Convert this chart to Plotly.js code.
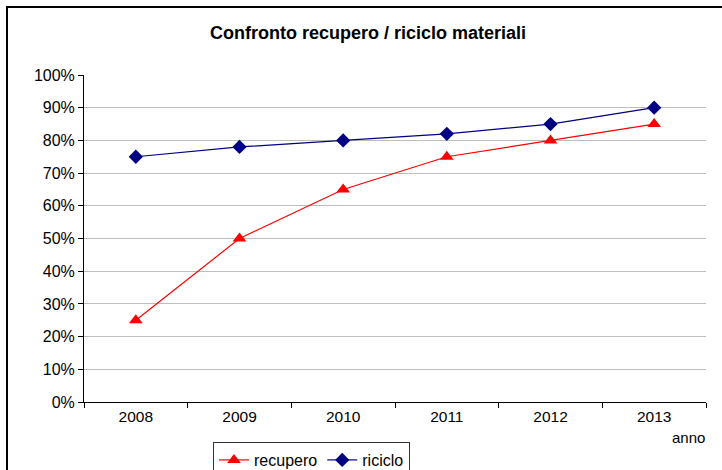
<!DOCTYPE html>
<html>
<head>
<meta charset="utf-8">
<script src="https://cdn.plot.ly/plotly-3.0.1.min.js"></script>
<style>html,body{margin:0;padding:0;background:#fff;}#chart{width:722px;height:470px;}</style>
</head>
<body>
<div id="chart"></div>
<script>
const years = ['2008', '2009', '2010', '2011', '2012', '2013'];
const recupero = [0.25, 0.50, 0.65, 0.75, 0.80, 0.85];
const riciclo = [0.75, 0.78, 0.80, 0.82, 0.85, 0.90];

const W = 722, H = 470;
const L = 84, R = 706, T = 75, B = 402;
const px = x => (x - L) / (R - L);
const py = y => (B - y) / (B - T);

const font = {family: 'Liberation Sans, Arial, sans-serif', color: '#000'};

const traces = [
  {x: years, y: recupero, name: 'recupero', type: 'scatter', mode: 'lines+markers',
   line: {color: '#ff0000', width: 1.2}, marker: {symbol: 'triangle-up', size: 12, color: '#ff0000'}},
  {x: years, y: riciclo, name: 'riciclo', type: 'scatter', mode: 'lines+markers',
   line: {color: '#000080', width: 1.2}, marker: {symbol: 'diamond', size: 11, color: '#000080'}}
];

const layout = {
  width: W, height: H,
  margin: {l: L, r: W - R, t: T, b: H - B, autoexpand: false},
  paper_bgcolor: '#fff', plot_bgcolor: '#fff',
  font: Object.assign({size: 16}, font),
  title: {text: '<b>Confronto recupero / riciclo materiali</b>', font: Object.assign({size: 18}, font),
          x: 368 / W, xref: 'container', xanchor: 'center', y: 1 - 33 / H, yref: 'container', yanchor: 'middle'},
  xaxis: {type: 'category', showgrid: false, showline: true, linecolor: '#000', linewidth: 1,
          ticks: 'outside', tickson: 'boundaries', ticklen: 5, tickcolor: '#000',
          tickfont: Object.assign({size: 15.5}, font), range: [-0.5, 5.5], fixedrange: true, automargin: false},
  yaxis: {range: [0, 1], dtick: 0.1, tickformat: '.0%', showgrid: true, gridcolor: '#bdbdbd', gridwidth: 1,
          showline: true, linecolor: '#000', linewidth: 1, ticks: 'outside', ticklen: 5, tickcolor: '#000',
          zeroline: false, tickfont: Object.assign({size: 16}, font), automargin: false},
  showlegend: true,
  legend: {orientation: 'h', x: px(213), xanchor: 'left', y: py(442), yanchor: 'top',
           bordercolor: '#333', borderwidth: 1, bgcolor: '#fff', font: Object.assign({size: 16}, font),
           itemwidth: 30, tracegroupgap: 0},
  annotations: [{text: 'anno', x: px(688), y: py(437), xref: 'paper', yref: 'paper', showarrow: false,
                 xanchor: 'center', yanchor: 'middle', font: Object.assign({size: 15}, font)}],
  shapes: [{type: 'rect', xref: 'paper', yref: 'paper', x0: px(7), x1: px(760), y0: py(520), y1: py(7),
            line: {color: '#000', width: 2}, layer: 'above'}]
};

Plotly.newPlot('chart', traces, layout, {displayModeBar: false, staticPlot: true});
</script>
</body>
</html>
